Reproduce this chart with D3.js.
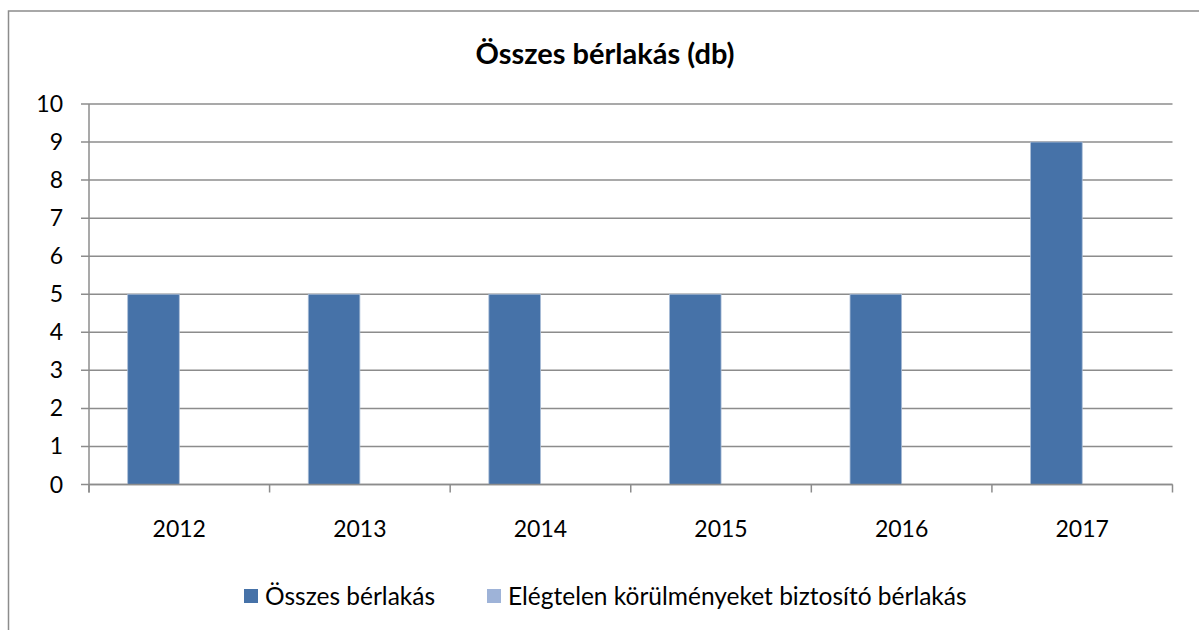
<!DOCTYPE html>
<html>
<head>
<meta charset="utf-8">
<script src="https://cdn.jsdelivr.net/npm/d3@7"></script>
<style>
body{margin:0;background:#fff;}
svg text{font-family:Lato,"Open Sans",sans-serif;fill:#000;}
</style>
</head>
<body>
<div id="container"></div>
<script>
// chart data
var years = ["2012","2013","2014","2015","2016","2017"]
var series = ["Összes bérlakás","Elégtelen körülményeket biztosító bérlakás"]
var osszes = [5,5,5,5,5,9]
var elegtelen = [0,0,0,0,0,0]
var yTicks = [0,1,2,3,4,5,6,7,8,9,10]
var colors = ["#4672A8","#9EB3D8"]

var w = 1199
var h = 630
var pLeft = 89, pRight = 1172.5, pTop = 104, pBottom = 484.5

var svg = d3.select("#container").append("svg").attr("width",w).attr("height",h)

// outer frame
svg.append("rect").attr("x",8.5).attr("y",11).attr("width",1220).attr("height",650)
    .attr("fill","none").attr("stroke","#8c8c8c").attr("stroke-width",1.5)

svg.append("text").text("Összes bérlakás (db)")
    .attr("x",605).attr("y",63.5).attr("text-anchor","middle")
    .attr("font-size",29).attr("font-weight","bold")

var xScale = d3.scaleBand().domain(years).range([pLeft,pRight]).padding(0)
var xInner = d3.scaleBand().domain(series).range([0,xScale.bandwidth()]).paddingInner(0).paddingOuter(0.75)
var yScale = d3.scaleLinear().domain([0,10]).range([pBottom,pTop])

// gridlines
svg.append("g").selectAll("line").data(yTicks).enter().append("line")
    .attr("x1",pLeft-8).attr("x2",pRight)
    .attr("y1",function(d){return yScale(d)}).attr("y2",function(d){return yScale(d)})
    .attr("stroke","#8c8c8c").attr("stroke-width",1.5)

// y labels
svg.append("g").selectAll("text").data(yTicks).enter().append("text")
    .text(function(d){return d})
    .attr("x",63).attr("y",function(d){return yScale(d)+8})
    .attr("text-anchor","end").attr("font-size",23)

// bars
var data = years.map(function(y,i){return {year:y,values:[osszes[i],elegtelen[i]]}})
var groups = svg.append("g").selectAll("g").data(data).enter().append("g")
    .attr("transform",function(d){return "translate("+xScale(d.year)+",0)"})
groups.selectAll("rect").data(function(d){return d.values.map(function(v,j){return {s:series[j],v:v,j:j}})})
    .enter().append("rect")
    .attr("x",function(d){return xInner(d.s)})
    .attr("width",xInner.bandwidth())
    .attr("y",function(d){return yScale(d.v)})
    .attr("height",function(d){return pBottom-yScale(d.v)})
    .attr("fill",function(d){return colors[d.j]})
    .attr("stroke",function(d){return d.v>0?"#a9bcd6":"none"})
    .attr("stroke-width",0.8)

// axes lines
svg.append("line").attr("x1",pLeft).attr("x2",pLeft).attr("y1",pTop).attr("y2",pBottom+8)
    .attr("stroke","#8c8c8c").attr("stroke-width",1.5)
svg.append("line").attr("x1",pLeft).attr("x2",pRight).attr("y1",pBottom).attr("y2",pBottom)
    .attr("stroke","#8c8c8c").attr("stroke-width",1.5)
var xEdges = years.map(function(y){return xScale(y)}).concat([pRight])
svg.append("g").selectAll("line").data(xEdges).enter().append("line")
    .attr("x1",function(d){return d}).attr("x2",function(d){return d})
    .attr("y1",pBottom).attr("y2",pBottom+8)
    .attr("stroke","#8c8c8c").attr("stroke-width",1.5)

// x labels
svg.append("g").selectAll("text").data(years).enter().append("text")
    .text(function(d){return d})
    .attr("x",function(d){return xScale(d)+xScale.bandwidth()/2})
    .attr("y",536.5).attr("text-anchor","middle").attr("font-size",23)

// legend
var legX = [244,487]
var leg = svg.append("g").selectAll("g").data(series).enter().append("g")
    .attr("transform",function(d,i){return "translate("+legX[i]+",589)"})
leg.append("rect").attr("width",14).attr("height",14).attr("fill",function(d,i){return colors[i]})
leg.append("text").text(function(d){return d}).attr("x",21).attr("y",16).attr("font-size",24.5)
</script>
</body>
</html>
